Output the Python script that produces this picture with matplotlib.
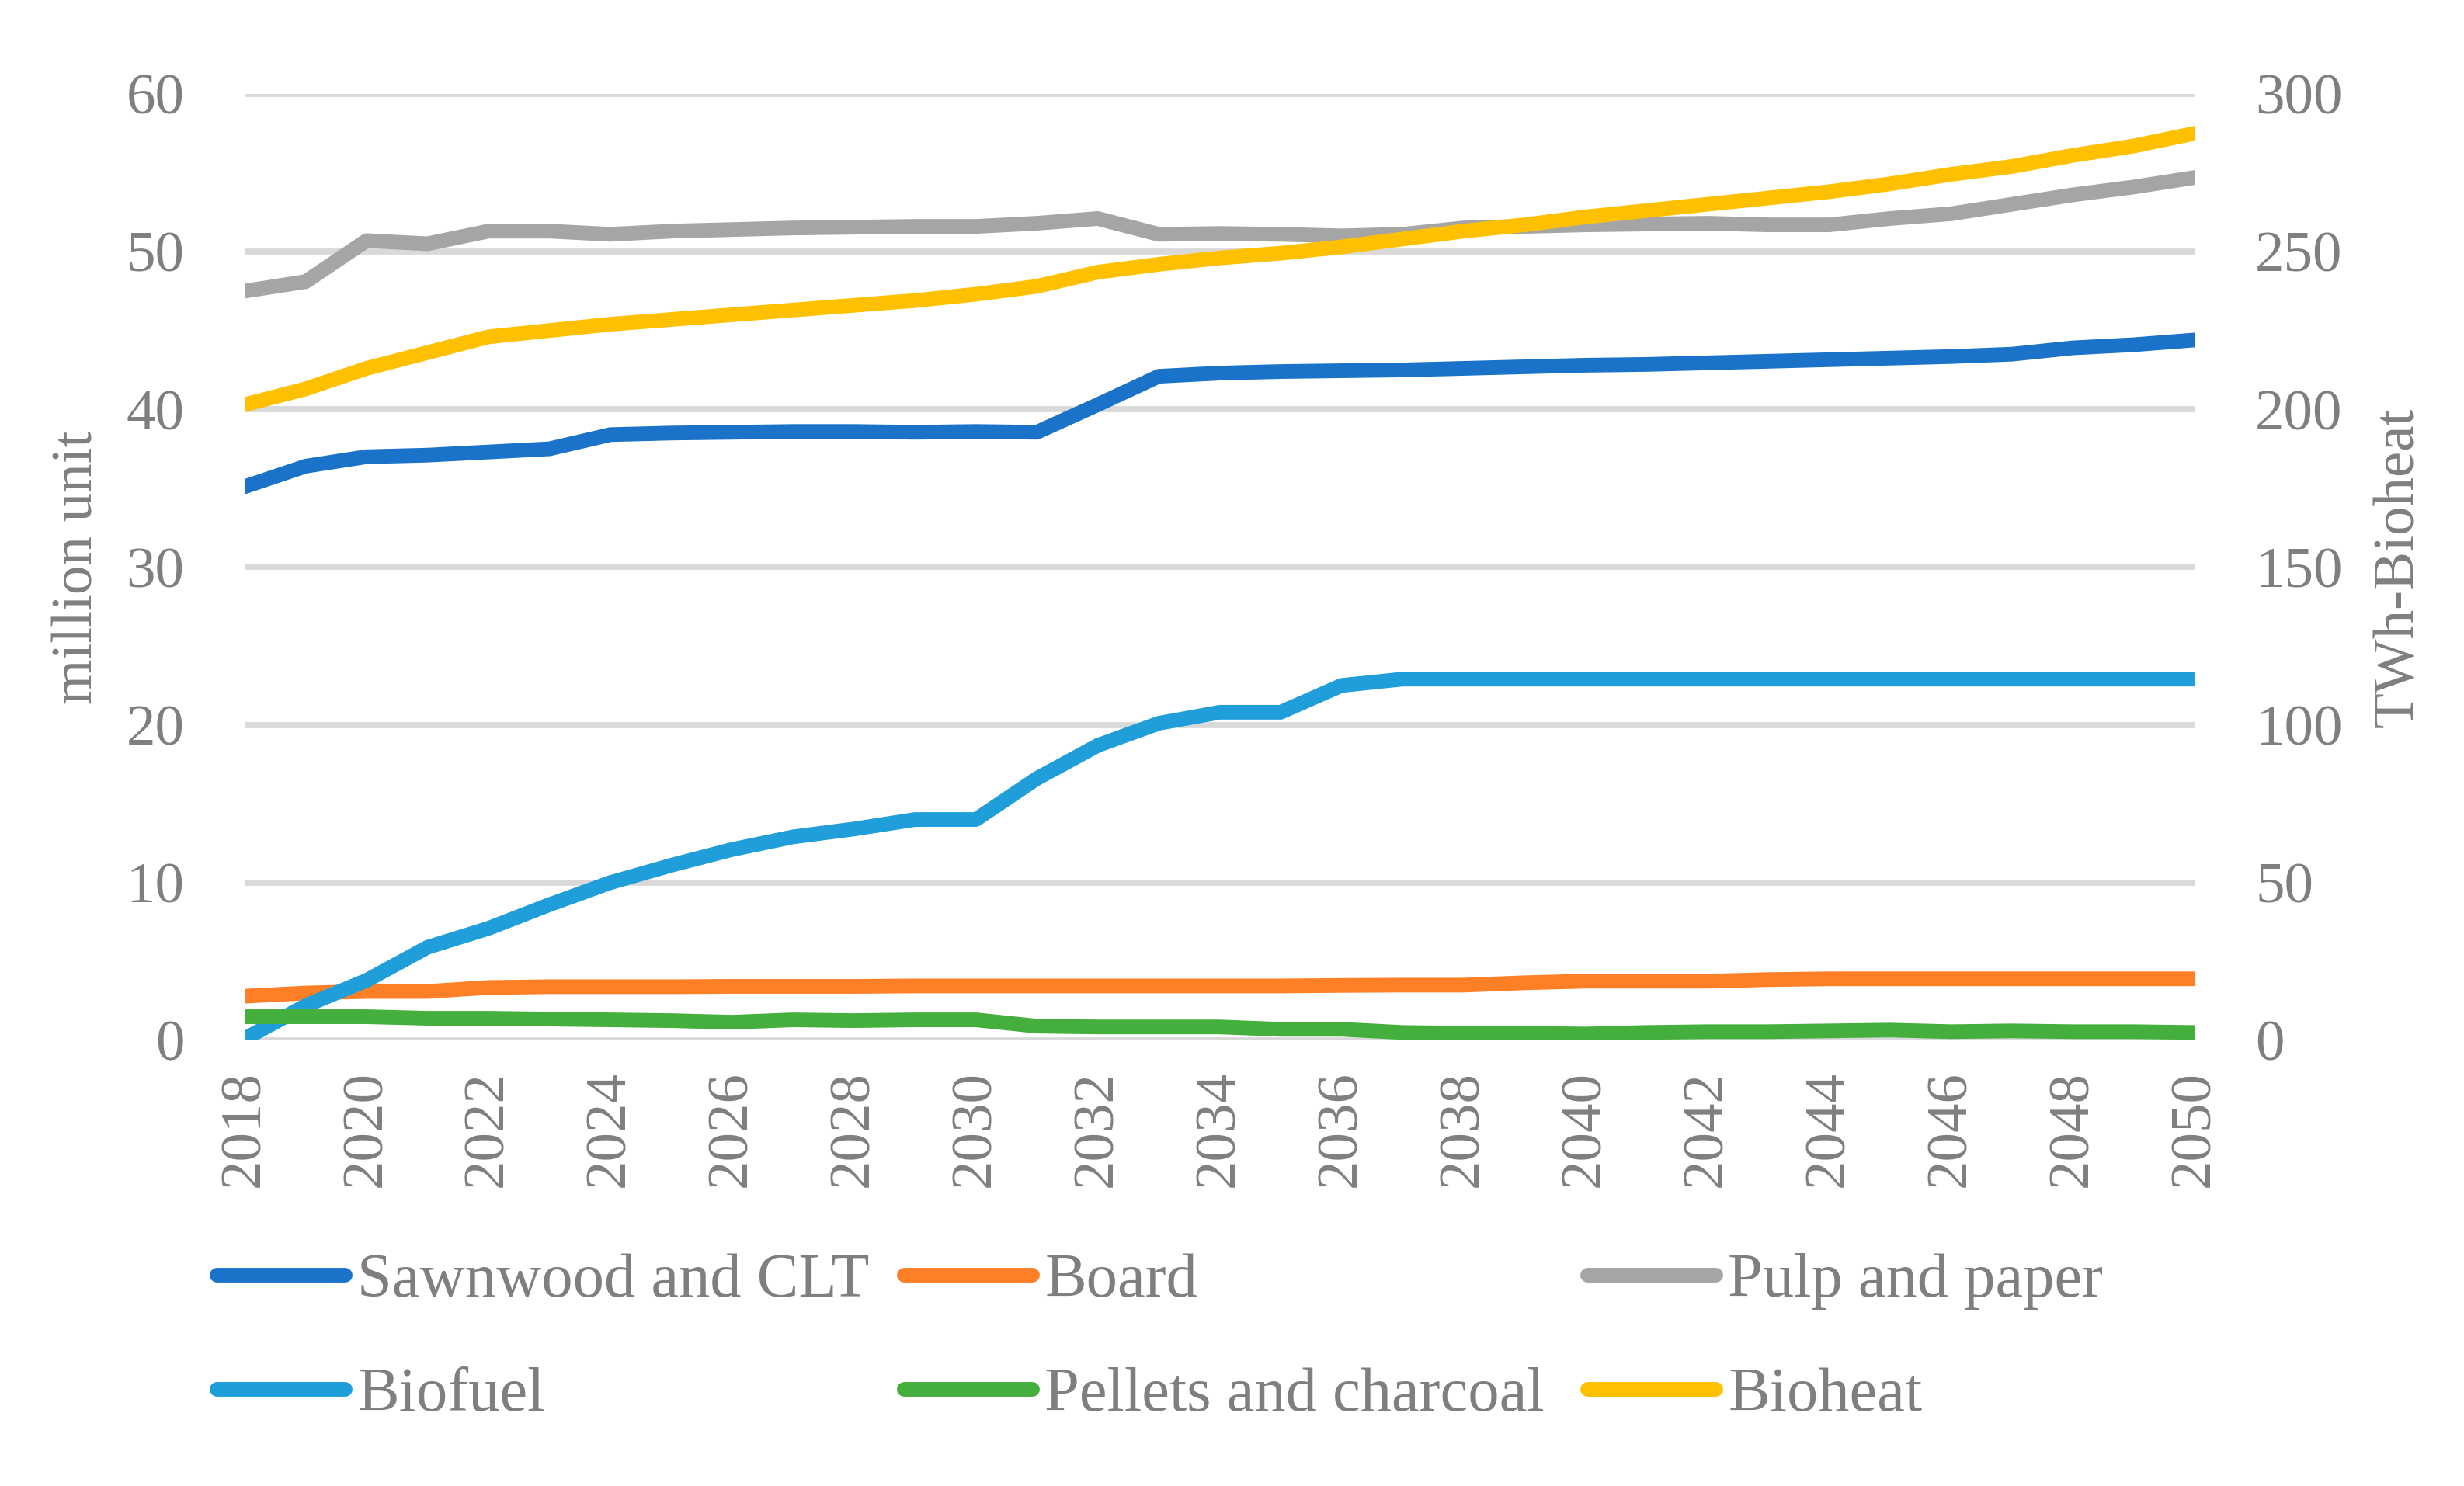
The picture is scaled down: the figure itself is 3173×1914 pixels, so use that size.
import matplotlib
matplotlib.use("Agg")
import matplotlib.pyplot as plt

years = list(range(2018, 2051))

sawnwood = [35.1, 36.4, 37.0, 37.1, 37.3, 37.5, 38.4, 38.5, 38.55, 38.6, 38.6,
            38.55, 38.6, 38.55, 40.3, 42.1, 42.3, 42.4, 42.45, 42.5, 42.6, 42.7,
            42.8, 42.85, 42.95, 43.05, 43.15, 43.25, 43.35, 43.5, 43.9, 44.1, 44.4]
board = [2.8, 3.0, 3.1, 3.1, 3.35, 3.4, 3.4, 3.4, 3.42, 3.42, 3.42, 3.45, 3.45,
         3.45, 3.45, 3.45, 3.45, 3.45, 3.48, 3.5, 3.5, 3.65, 3.75, 3.75, 3.75,
         3.85, 3.9, 3.9, 3.9, 3.9, 3.9, 3.9, 3.9]
pulp = [47.5, 48.1, 50.7, 50.5, 51.3, 51.3, 51.1, 51.3, 51.4, 51.5, 51.55, 51.6,
        51.6, 51.8, 52.1, 51.1, 51.15, 51.1, 51.0, 51.1, 51.5, 51.6, 51.7, 51.75,
        51.8, 51.7, 51.7, 52.1, 52.4, 53.0, 53.6, 54.1, 54.7]
biofuel = [0.1, 2.2, 3.8, 5.9, 7.1, 8.6, 10.0, 11.1, 12.1, 12.9, 13.4, 14.0, 14.0,
           16.6, 18.7, 20.1, 20.8, 20.8, 22.5, 22.9, 22.9, 22.9, 22.9, 22.9, 22.9,
           22.9, 22.9, 22.9, 22.9, 22.9, 22.9, 22.9, 22.9]
pellets = [1.5, 1.5, 1.5, 1.4, 1.4, 1.35, 1.3, 1.25, 1.15, 1.3, 1.25, 1.3, 1.3,
           0.9, 0.85, 0.85, 0.85, 0.7, 0.7, 0.5, 0.45, 0.45, 0.4, 0.5, 0.55, 0.55,
           0.6, 0.65, 0.55, 0.6, 0.55, 0.55, 0.5]
bioheat_twh = [201.5, 206.5, 213, 218, 223, 225, 227, 228.5, 230, 231.5, 233,
               234.5, 236.5, 239, 243.5, 246, 248, 249.5, 251.5, 254, 256.5,
               258.5, 261, 263, 265, 267, 269, 271.5, 274.5, 277, 280.5, 283.5,
               287.5]

left_ticks = [0, 10, 20, 30, 40, 50, 60]
right_ticks = [0, 50, 100, 150, 200, 250, 300]
x_ticks = list(range(2018, 2051, 2))

names = ["Sawnwood and CLT", "Board", "Pulp and paper", "Biofuel",
         "Pellets and charcoal", "Bioheat"]
colors = ["#1a73c8", "#ff7f27", "#a5a5a5", "#1f9ed9", "#44af3c", "#ffc000"]

plt.rcParams['font.family'] = ['Liberation Serif', 'DejaVu Serif']
txt = "#7f7f7f"
fs = 27
lw = 6.8

fig = plt.figure(figsize=(3173 / 200, 1914 / 200), dpi=200)
ax = fig.add_axes([0.0993, 0.2999, 0.8907 - 0.0993, 0.9368 - 0.2999])
ax2 = ax.twinx()

left_series = [sawnwood, board, pulp, biofuel, pellets]
handles = []
for s, n, c in zip(left_series, names[:5], colors[:5]):
    h, = ax.plot(years, s, color=c, lw=lw, solid_capstyle='round',
                 solid_joinstyle='round', label=n, zorder=3)
    handles.append(h)
h, = ax2.plot(years, bioheat_twh, color=colors[5], lw=lw, solid_capstyle='round',
              solid_joinstyle='round', label=names[5], zorder=3)
handles.append(h)

ax.set_xlim(2018, 2050)
ax.set_ylim(0, 60)
ax2.set_ylim(0, 300)
ax.set_yticks(left_ticks)
ax2.set_yticks(right_ticks)
ax.set_xticks(x_ticks)
ax.set_xticklabels([str(x) for x in x_ticks], rotation=90)

ax.grid(axis='y', color='#d9d9d9', lw=2.8, zorder=0)
ax.set_axisbelow(True)
for a in (ax, ax2):
    for sp in a.spines.values():
        sp.set_visible(False)
ax.tick_params(axis='y', length=0, pad=28, labelsize=fs, labelcolor=txt)
ax.tick_params(axis='x', length=0, pad=14, labelsize=fs, labelcolor=txt)
ax2.tick_params(axis='y', length=0, pad=28, labelsize=fs, labelcolor=txt)

ax.set_ylabel("million unit", fontsize=fs, color=txt, labelpad=10)
ax2.set_ylabel("TWh-Bioheat", fontsize=fs, color=txt, labelpad=14)

# Legend in three columns, two rows (Excel style)
col_x = [279 / 3173, 1164 / 3173, 2044 / 3173]
row_center = (1914 - (1649 + 1799) / 2) / 1914
cols = [[0, 3], [1, 4], [2, 5]]
for cx, idx in zip(col_x, cols):
    leg = fig.legend([handles[i] for i in idx], [names[i] for i in idx],
                     loc='center left', bbox_to_anchor=(cx, row_center),
                     frameon=False, fontsize=29, handlelength=2.05,
                     handletextpad=0.2, borderpad=0, borderaxespad=0,
                     labelspacing=0.92, labelcolor=txt)
    for ln in leg.get_lines():
        ln.set_linewidth(lw)
        ln.set_solid_capstyle('round')

fig.savefig("out.png", dpi=200)
